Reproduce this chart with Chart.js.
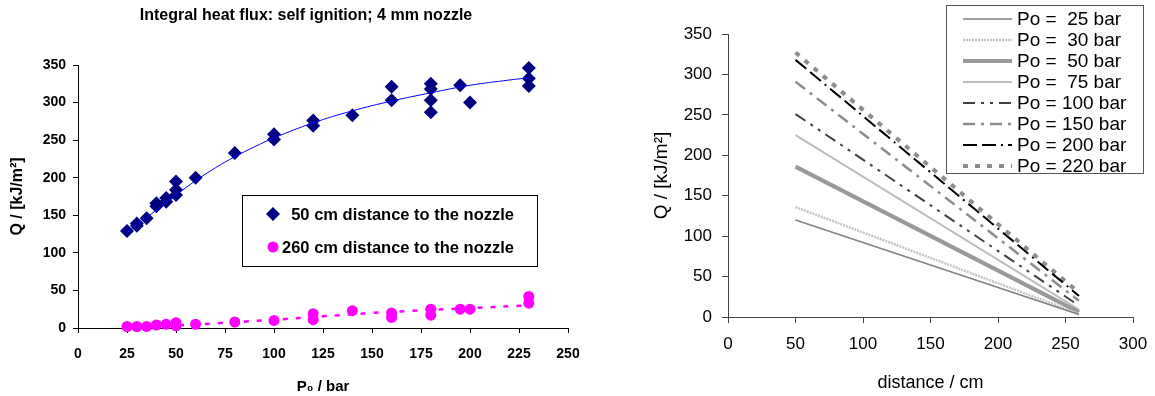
<!DOCTYPE html>
<html>
<head>
<meta charset="utf-8">
<script src="https://cdn.jsdelivr.net/npm/chart.js@4"></script>
<style>
  body { margin: 0; background: #fff; }
  #leftChart { position: absolute; left: 0; top: 0; }
  #rightChart { position: absolute; left: 580px; top: 0; }
</style>
</head>
<body>
<canvas id="leftChart" width="580" height="396"></canvas>
<canvas id="rightChart" width="575" height="396"></canvas>
<script>
const FONT = "'Liberation Sans', Arial, sans-serif";

// left chart: integral heat flux against initial pressure
const leftTitle = 'Integral heat flux: self ignition; 4 mm nozzle';
const p50 = [25, 30, 30, 35, 40, 40, 45, 45, 50, 50, 50, 60, 80, 100, 100, 120, 120, 140, 160, 160, 180, 180, 180, 180, 195, 200, 230, 230, 230];
const q50 = [129, 136, 139, 146, 162, 166, 168, 173, 177, 184, 195, 200, 233, 251, 258, 269, 276, 283, 303, 321, 287, 303, 318, 325, 323, 300, 322, 332, 346];
const p260 = [25, 30, 35, 40, 45, 50, 50, 60, 80, 100, 120, 120, 140, 160, 160, 180, 180, 195, 200, 230, 230];
const q260 = [2, 2, 2, 4, 5, 3, 7, 5, 8, 10, 11, 19, 23, 14, 20, 17, 25, 25, 25, 33, 42];
// trend lines
const fitP50 = [25, 30, 40, 50, 60, 70, 80, 90, 100, 120, 140, 160, 180, 200, 220, 230];
const fitQ50 = [127, 137, 157, 177, 196, 213, 228, 241, 253, 273, 289, 302, 313, 323, 330, 333];
const fitP260 = [25, 50, 75, 100, 125, 150, 175, 200, 230];
const fitQ260 = [1.5, 3.5, 7, 11, 15.5, 20, 23.5, 26.5, 30];
const leftLegend = ['50 cm distance to the nozzle', '260 cm distance to the nozzle'];
const pressureTicks = [0, 25, 50, 75, 100, 125, 150, 175, 200, 225, 250];
const leftQTicks = [0, 50, 100, 150, 200, 250, 300, 350];

// right chart: heat flux against distance, one line per pressure
const distance = [50, 260];
const qPo25 = [120, 3];
const qPo30 = [136, 4];
const qPo50 = [186, 6];
const qPo75 = [225, 9];
const qPo100 = [251, 14];
const qPo150 = [291, 20];
const qPo200 = [318, 26];
const qPo220 = [327, 30];
const poLabels = ['Po =  25 bar', 'Po =  30 bar', 'Po =  50 bar', 'Po =  75 bar', 'Po = 100 bar', 'Po = 150 bar', 'Po = 200 bar', 'Po = 220 bar'];
const distanceTicks = [0, 50, 100, 150, 200, 250, 300];
const rightQTicks = [0, 50, 100, 150, 200, 250, 300, 350];

function pts(xs, ys) {
    return xs.map((x, i) => ({ x: x, y: ys[i] }));
}
function fixedTicks(list) {
    return function(scale) {
        scale.ticks = list.map(v => ({ value: v }));
    };
}
// pin the axis box size and drop the label overhang padding so the plot area stays put
function pinX(h) {
    return function(scale) {
        scale.height = h;
        scale.paddingLeft = 0;
        scale.paddingRight = 0;
    };
}
function pinY(w) {
    return function(scale) {
        scale.width = w;
        scale.paddingTop = 0;
        scale.paddingBottom = 0;
    };
}

const leftDecor = {
    id: 'leftDecor',
    afterDraw(chart) {
        const ctx = chart.ctx;
        ctx.save();
        ctx.fillStyle = '#000';
        ctx.font = 'bold 16px ' + FONT;
        ctx.textAlign = 'center';
        ctx.textBaseline = 'middle';
        ctx.fillText(leftTitle, 306, 16);

        // legend box
        ctx.fillStyle = '#fff';
        ctx.fillRect(242, 195, 295, 71);
        ctx.strokeStyle = '#000';
        ctx.lineWidth = 1;
        ctx.strokeRect(242.5, 195.5, 295, 71);

        ctx.fillStyle = '#000080';
        ctx.beginPath();
        ctx.moveTo(273, 207); ctx.lineTo(280, 214); ctx.lineTo(273, 221); ctx.lineTo(266, 214);
        ctx.closePath();
        ctx.fill();
        ctx.fillStyle = '#FF00FF';
        ctx.beginPath();
        ctx.arc(273, 247, 5.5, 0, Math.PI * 2);
        ctx.fill();

        ctx.fillStyle = '#000';
        ctx.font = 'bold 16.5px ' + FONT;
        ctx.textAlign = 'right';
        ctx.fillText(leftLegend[0], 514, 215);
        ctx.fillText(leftLegend[1], 514, 248);
        ctx.restore();
    }
};

new Chart(document.getElementById('leftChart'), {
    type: 'scatter',
    data: {
        datasets: [{
            label: 'fit 50',
            data: pts(fitP50, fitQ50),
            showLine: true,
            borderColor: '#0000FF',
            borderWidth: 1,
            pointRadius: 0,
            tension: 0.4,
            order: 0
        }, {
            label: 'fit 260',
            data: pts(fitP260, fitQ260),
            showLine: true,
            borderColor: '#FF00FF',
            borderWidth: 2.5,
            borderDash: [5, 8],
            pointRadius: 0,
            tension: 0.4,
            order: 0
        }, {
            label: leftLegend[0],
            data: pts(p50, q50),
            pointStyle: 'rectRot',
            pointRadius: 7,
            backgroundColor: '#000080',
            borderColor: '#000080',
            borderWidth: 0,
            clip: false,
            order: 1
        }, {
            label: leftLegend[1],
            data: pts(p260, q260),
            pointStyle: 'circle',
            pointRadius: 5.5,
            backgroundColor: '#FF00FF',
            borderColor: '#FF00FF',
            borderWidth: 0,
            clip: false,
            order: 1
        }]
    },
    options: {
        responsive: false,
        animation: false,
        layout: { padding: { top: 65, right: 12, left: 0, bottom: 0 } },
        plugins: { legend: { display: false }, tooltip: { enabled: false } },
        scales: {
            x: {
                type: 'linear',
                min: 0,
                max: 250,
                afterBuildTicks: fixedTicks(pressureTicks),
                afterFit: pinX(68),
                grid: { drawOnChartArea: false, tickLength: 5, color: '#000' },
                border: { color: '#000' },
                ticks: { padding: 13, color: '#000', font: { size: 14, weight: 'bold' } },
                title: {
                    display: true,
                    text: 'P₀ / bar',
                    color: '#000',
                    font: { size: 15, weight: 'bold' },
                    padding: { top: 0, bottom: 0 }
                }
            },
            y: {
                min: 0,
                max: 350,
                afterBuildTicks: fixedTicks(leftQTicks),
                afterFit: pinY(78),
                grid: { drawOnChartArea: false, tickLength: 5, color: '#000' },
                border: { color: '#000' },
                ticks: { padding: 7, color: '#000', font: { size: 14, weight: 'bold' } },
                title: {
                    display: true,
                    text: 'Q / [kJ/m²]',
                    color: '#000',
                    font: { size: 16, weight: 'bold' },
                    padding: { top: 8, bottom: 0 }
                }
            }
        }
    },
    plugins: [leftDecor]
});

const rightSeries = [qPo25, qPo30, qPo50, qPo75, qPo100, qPo150, qPo200, qPo220];
const rightStyles = [
    { color: '#808080', width: 1.5, dash: [] },
    { color: '#C4C4C4', width: 2.5, dash: [2, 1] },
    { color: '#999999', width: 4, dash: [] },
    { color: '#BDBDBD', width: 2, dash: [] },
    { color: '#404040', width: 2, dash: [12, 6, 3, 6, 3, 6] },
    { color: '#8C8C8C', width: 2.5, dash: [12, 6, 3, 6] },
    { color: '#000000', width: 2, dash: [14, 5, 14, 5, 2, 5] },
    { color: '#8C8C8C', width: 4, dash: [5, 7] }
];

const rightLegend = {
    id: 'rightLegend',
    afterDraw(chart) {
        const ctx = chart.ctx;
        ctx.save();
        ctx.fillStyle = '#fff';
        ctx.fillRect(366, 5, 197, 168);
        ctx.strokeStyle = '#555';
        ctx.lineWidth = 1;
        ctx.strokeRect(366.5, 5.5, 197, 168);
        ctx.font = '19px ' + FONT;
        ctx.textAlign = 'left';
        ctx.textBaseline = 'middle';
        chart.data.datasets.forEach((ds, i) => {
            const y = 19 + i * 21;
            ctx.strokeStyle = ds.borderColor;
            ctx.lineWidth = ds.borderWidth;
            ctx.setLineDash(ds.borderDash);
            ctx.beginPath();
            ctx.moveTo(383, y);
            ctx.lineTo(432, y);
            ctx.stroke();
            ctx.setLineDash([]);
            ctx.fillStyle = '#000';
            ctx.fillText(ds.label, 437, y + 1);
        });
        ctx.restore();
    }
};

new Chart(document.getElementById('rightChart'), {
    type: 'scatter',
    data: {
        datasets: rightSeries.map((ys, i) => ({
            label: poLabels[i],
            data: pts(distance, ys),
            showLine: true,
            borderColor: rightStyles[i].color,
            borderWidth: rightStyles[i].width,
            borderDash: rightStyles[i].dash,
            pointRadius: 0,
            clip: false
        }))
    },
    options: {
        responsive: false,
        animation: false,
        layout: { padding: { top: 34, right: 22, left: 0, bottom: 0 } },
        plugins: { legend: { display: false }, tooltip: { enabled: false } },
        scales: {
            x: {
                type: 'linear',
                min: 0,
                max: 300,
                afterBuildTicks: fixedTicks(distanceTicks),
                afterFit: pinX(79),
                grid: { drawOnChartArea: false, tickLength: 6, color: '#444' },
                border: { color: '#444' },
                ticks: { padding: 11, color: '#000', font: { size: 17 } },
                title: {
                    display: true,
                    text: 'distance / cm',
                    color: '#000',
                    font: { size: 18 },
                    padding: { top: 0, bottom: 2 }
                }
            },
            y: {
                min: 0,
                max: 350,
                afterBuildTicks: fixedTicks(rightQTicks),
                afterFit: pinY(148),
                grid: { drawOnChartArea: false, tickLength: 6, color: '#444' },
                border: { color: '#444' },
                ticks: { padding: 10, color: '#000', font: { size: 17 } },
                title: {
                    display: true,
                    text: 'Q / [kJ/m²]',
                    color: '#000',
                    font: { size: 19 },
                    padding: { top: 70, bottom: 0 }
                }
            }
        }
    },
    plugins: [rightLegend]
});
</script>
</body>
</html>
